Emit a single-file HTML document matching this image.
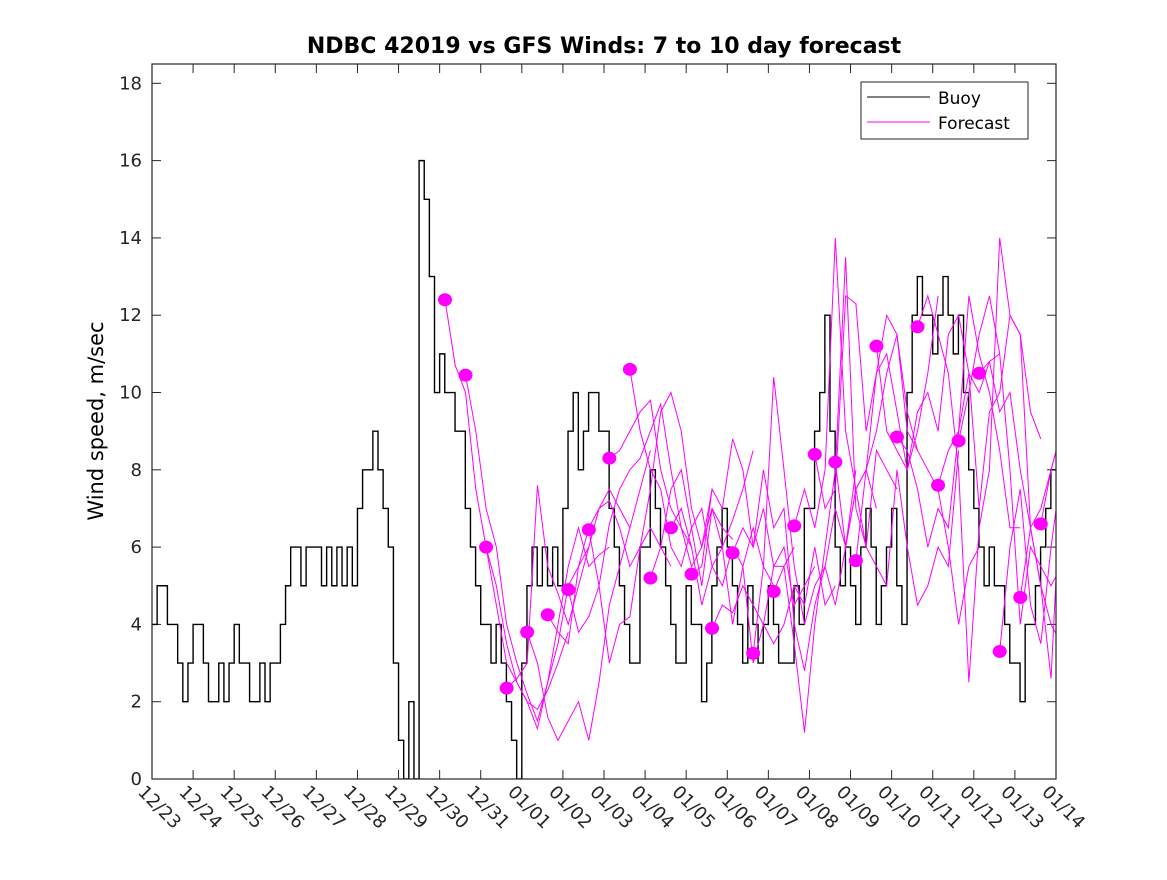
<!DOCTYPE html>
<html><head><meta charset="utf-8"><style>
body{margin:0;background:#fff}
svg text{font-family:"DejaVu Sans","Liberation Sans",sans-serif}
</style></head><body>
<svg id="chart" width="1167" height="875" xmlns="http://www.w3.org/2000/svg">
<rect width="1167" height="875" fill="#fff"/>
<defs><clipPath id="pc"><rect x="152" y="64" width="904" height="715"/></clipPath></defs>
<text x="604" y="53" text-anchor="middle" font-size="22" font-weight="bold">NDBC 42019 vs GFS Winds: 7 to 10 day forecast</text>
<text transform="translate(103,421) rotate(-90)" text-anchor="middle" font-size="21">Wind speed, m/sec</text>
<g id="axes"></g>
<g id="marks" clip-path="url(#pc)"></g>
<rect x="152" y="64" width="904" height="715" fill="none" stroke="#262626" stroke-width="1.2"/>
<g>
<rect x="861" y="82" width="167" height="57" fill="#fff" stroke="#262626" stroke-width="1"/>
<line x1="867" y1="97" x2="930" y2="97" stroke="#000" stroke-width="1"/>
<text x="938" y="104" font-size="17">Buoy</text>
<line x1="867" y1="122" x2="930" y2="122" stroke="#f0f" stroke-width="1"/>
<text x="938" y="129" font-size="17">Forecast</text>
</g>
</svg>
<script>
const xTickLabels=["12/23","12/24","12/25","12/26","12/27","12/28","12/29","12/30","12/31","01/01","01/02","01/03","01/04","01/05","01/06","01/07","01/08","01/09","01/10","01/11","01/12","01/13","01/14"];
const yTicks=[0,2,4,6,8,10,12,14,16,18];
const buoy=[4,5,5,4,4,3,2,3, 4,4,3,2,2,3,2,3, 4,3,3,2,2,3,2,3, 3,4,5,6,6,5,6,6, 6,5,6,5,6,5,6,5, 7,8,8,9,8,7,6,3,
1,0,2,0,16,15,13,10, 11,10,10,9,9,7,6,5, 4,4,3,4,3,2,1,0, 3,5,6,5,6,5,6,5, 7,9,10,8,9,10,10,9, 9,7,6,5,4,3,3,6,
6,8,7,6,5,4,3,3, 5,4,4,2,3,5,6,7, 6,5,4,3,5,4,3,4, 5,4,3,3,3,5,4,7, 7,9,10,12,9,6,5,6, 5,4,6,7,6,4,5,6,
7,5,4,10,12,13,12,12, 11,12,13,12,11,12,10,8, 7,6,5,6,5,5,4,3, 3,2,4,4,5,6,7,8];
const fcStartDay=7.13, fcSpacingDays=0.5, fcStepDays=0.25;
const forecasts=[
[12.4,10.7,10.0,7.5,6.0,4.5,3.0,2.5,2.0,1.8,2.3,3.0,3.8],
[10.45,9.0,7.0,6.0,4.0,3.0,2.2,1.5,2.5,3.5,5.0,5.5,6.0],
[6.0,5.0,3.5,2.5,2.0,1.3,2.5,4.0,5.5,6.5,5.5,5.8,6.0],
[2.35,2.6,3.0,7.6,5.5,4.8,4.0,5.0,6.0,7.0,7.5,7.0,6.5],
[3.8,3.0,1.6,1.0,1.5,2.0,1.0,2.5,4.5,5.5,6.5,7.5,8.5],
[4.25,3.8,3.5,5.5,6.5,7.0,7.2,6.5,5.5,6.0,6.5,6.0,5.5],
[4.9,3.8,4.2,5.0,6.6,7.5,8.0,8.3,9.0,9.7,8.0,6.5,6.0],
[6.45,5.0,3.0,4.0,4.2,6.0,7.5,9.5,10.0,9.0,7.0,6.0,7.5],
[8.3,8.5,9.0,9.5,9.8,8.0,7.0,6.5,5.5,6.0,7.0,6.5,6.2],
[10.6,9.0,8.0,7.5,6.0,5.5,6.5,5.0,7.0,6.0,6.7,7.5,8.5],
[5.2,6.0,7.5,8.0,6.5,7.0,5.5,6.0,4.0,5.5,6.5,5.5,5.0],
[6.5,7.0,6.0,4.5,5.5,5.0,6.0,5.5,3.0,4.0,5.5,5.5,6.0],
[5.3,5.5,7.5,7.0,8.8,8.0,6.0,7.0,5.5,6.0,4.5,5.0,5.5],
[3.9,4.5,4.3,5.0,4.5,4.0,3.5,4.0,5.0,4.5,6.0,4.5,5.0],
[5.85,6.5,6.0,8.0,6.5,7.0,4.0,2.8,4.5,5.5,7.0,6.0,8.0],
[3.25,5.5,10.4,8.0,5.5,4.0,5.0,5.5,4.5,6.0,7.5,8.0,7.0],
[4.85,5.5,3.5,1.2,4.0,6.0,8.0,13.5,7.0,6.0,8.5,8.0,7.5],
[6.55,7.5,6.5,8.0,14.0,9.0,7.5,8.0,10.5,12.0,11.5,9.0,8.5],
[8.4,7.0,7.5,12.5,12.3,9.0,10.5,11.0,9.5,8.0,9.0,10.5,12.5],
[8.2,6.0,7.5,6.0,5.5,5.0,8.0,6.0,4.5,5.0,6.0,5.5,8.5],
[5.65,8.0,9.0,10.5,11.5,9.5,8.5,8.0,7.5,6.0,4.0,5.5,6.0],
[11.2,9.0,8.5,8.0,9.5,10.0,9.0,11.5,12.0,10.5,10.0,10.8,11.0],
[8.85,8.5,7.5,6.0,7.0,6.5,9.0,12.5,11.0,10.0,8.5,6.5,6.5],
[11.7,12.5,11.5,10.5,8.0,2.5,6.5,8.0,14.0,12.0,11.5,9.5,8.8],
[7.6,8.5,9.0,10.5,7.0,9.5,10.0,12.0,11.5,6.5,7.0,8.0,9.0],
[8.75,10.0,11.5,12.5,11.0,8.0,4.0,6.0,5.5,5.0,5.5,6.0,5.0],
[10.5,10.8,9.5,10.0,8.0,6.5,5.0,4.0,3.5,5.5,8.0,9.5,10.6],
[3.3,6.0,7.5,4.5,3.5,6.0,8.0,4.0,6.5,8.5,9.0,9.5,9.0],
[4.7,6.5,5.0,2.6,8.0,6.0,5.0,6.5,7.0,5.5,6.0,6.5,6.0],
[6.6,8.0,9.0,7.0,4.5,6.0,9.4,8.0,7.0,6.5,6.0,6.5,7.0]
];
const X0=152,X1=1056,Y0=779,Y1=64,DAYS=22,YMAX=18.5;
const sx=d=>X0+(X1-X0)*d/DAYS;
const sy=v=>Y0-(Y0-Y1)*v/YMAX;
const NS="http://www.w3.org/2000/svg";
function mk(t,a){const e=document.createElementNS(NS,t);for(const k in a)e.setAttribute(k,a[k]);return e;}
const axes=document.getElementById('axes'),marks=document.getElementById('marks');
xTickLabels.forEach((l,i)=>{const x=sx(i);
 const t1=mk('line',{x1:x,y1:Y0,x2:x,y2:Y0-9,stroke:'#262626'});
 
 axes.appendChild(t1);
 const t2=mk('line',{x1:x,y1:Y1,x2:x,y2:Y1+9,stroke:'#262626'});
 
 axes.appendChild(t2);
 const tx=mk('text',{transform:`translate(${x-15},${Y0+14}) rotate(45)`,'font-size':'18',fill:'#262626'});
 tx.textContent=l;
 
 axes.appendChild(tx);});
yTicks.forEach(v=>{const y=sy(v);
 const t1=mk('line',{x1:X0,y1:y,x2:X0+9,y2:y,stroke:'#262626'});
 
 axes.appendChild(t1);
 const t2=mk('line',{x1:X1,y1:y,x2:X1-9,y2:y,stroke:'#262626'});
 
 axes.appendChild(t2);
 const tx=mk('text',{x:X0-10,y:y+6,'text-anchor':'end','font-size':'18',fill:'#262626'});
 tx.textContent=v;
 
 axes.appendChild(tx);});
let d='';buoy.forEach((v,i)=>{const x=sx(i/8),y=sy(v);d+=(i?`L${x},${y}`:`M${x},${y}`)+`L${sx((i+1)/8)},${y}`;});
const bp=mk('path',{d:d,fill:'none',stroke:'#000','stroke-width':'1.4'});

marks.appendChild(bp);
forecasts.forEach((f,k)=>{const s=fcStartDay+k*fcSpacingDays;
 const pts=f.map((v,j)=>`${sx(s+j*fcStepDays)},${sy(v)}`).join(' ');
 const pl=mk('polyline',{points:pts,fill:'none',stroke:'#f0f','stroke-width':'1'});
 
 marks.appendChild(pl);});
forecasts.forEach((f,k)=>{const s=fcStartDay+k*fcSpacingDays;
 const c=mk('ellipse',{cx:sx(s),cy:sy(f[0]),rx:7,ry:6.5,fill:'#f0f'});
 
 marks.appendChild(c);});
</script>
</body></html>
